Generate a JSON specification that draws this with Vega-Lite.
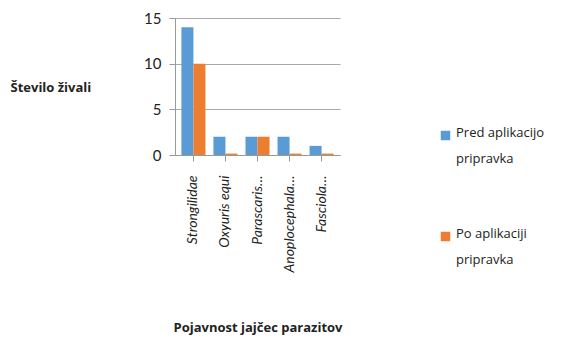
{
  "$schema": "https://vega.github.io/schema/vega-lite/v6.json",
  "width": 165,
  "height": 137,
  "autosize": {"type": "none"},
  "padding": {"left": 175, "top": 18, "right": 245, "bottom": 189},
  "background": "white",
  "config": {"font": "Lato", "view": {"stroke": null}},
  "data": {
    "values": [
      {"parazit": "Strongilidae", "serija": "Pred aplikacijo pripravka", "stevilo": 14},
      {"parazit": "Strongilidae", "serija": "Po aplikaciji pripravka", "stevilo": 10},
      {"parazit": "Oxyuris equi", "serija": "Pred aplikacijo pripravka", "stevilo": 2},
      {"parazit": "Oxyuris equi", "serija": "Po aplikaciji pripravka", "stevilo": 0.15},
      {"parazit": "Parascaris…", "serija": "Pred aplikacijo pripravka", "stevilo": 2},
      {"parazit": "Parascaris…", "serija": "Po aplikaciji pripravka", "stevilo": 2},
      {"parazit": "Anoplocephala…", "serija": "Pred aplikacijo pripravka", "stevilo": 2},
      {"parazit": "Anoplocephala…", "serija": "Po aplikaciji pripravka", "stevilo": 0.15},
      {"parazit": "Fasciola…", "serija": "Pred aplikacijo pripravka", "stevilo": 1},
      {"parazit": "Fasciola…", "serija": "Po aplikaciji pripravka", "stevilo": 0.15}
    ]
  },
  "mark": {"type": "bar"},
  "encoding": {
    "x": {
      "field": "parazit",
      "type": "nominal",
      "sort": null,
      "scale": {"paddingInner": 0.25, "paddingOuter": 0.2},
      "axis": {
        "title": "Pojavnost jajčec parazitov",
        "titleFont": "Open Sans",
        "titleFontWeight": "bold",
        "titleFontSize": 13,
        "titleColor": "#222",
        "titleY": 166,
        "labelAngle": -90,
        "labelFontStyle": "italic",
        "labelFontSize": 14,
        "labelColor": "#222",
        "labelPadding": 14,
        "labelLimit": 120,
        "domainColor": "#999",
        "tickColor": "#999",
        "tickSize": 6
      }
    },
    "xOffset": {"field": "serija", "type": "nominal", "sort": ["Pred aplikacijo pripravka", "Po aplikaciji pripravka"]},
    "y": {
      "field": "stevilo",
      "type": "quantitative",
      "scale": {"domain": [0, 15]},
      "axis": {
        "title": "Število živali",
        "titleAngle": 0,
        "titleAlign": "left",
        "titleBaseline": "middle",
        "titleX": -165,
        "titleY": 69,
        "titleFont": "Open Sans",
        "titleFontWeight": "bold",
        "titleFontSize": 13,
        "titleColor": "#222",
        "values": [0, 5, 10, 15],
        "labelFontSize": 15,
        "labelColor": "#222",
        "labelPadding": 8,
        "gridColor": "#aaa",
        "domainColor": "#999",
        "tickColor": "#999",
        "tickSize": 6
      }
    },
    "color": {
      "field": "serija",
      "type": "nominal",
      "sort": ["Pred aplikacijo pripravka", "Po aplikaciji pripravka"],
      "scale": {"domain": ["Pred aplikacijo pripravka", "Po aplikaciji pripravka"], "range": ["#5B9BD5", "#ED7D31"]},
      "legend": {
        "title": null,
        "orient": "none",
        "legendX": 264,
        "legendY": 111,
        "symbolType": "square",
        "symbolSize": 90,
        "labelFont": "Open Sans",
        "labelFontSize": 13,
        "labelColor": "#222",
        "labelBaseline": "top",
        "labelExpr": "[replace(datum.label, ' pripravka', ''), 'pripravka']",
        "labelLimit": 200,
        "rowPadding": 61,
        "encode": {
          "labels": {"update": {"lineHeight": {"value": 26}, "dy": {"value": -9}}}
        }
      }
    }
  }
}
